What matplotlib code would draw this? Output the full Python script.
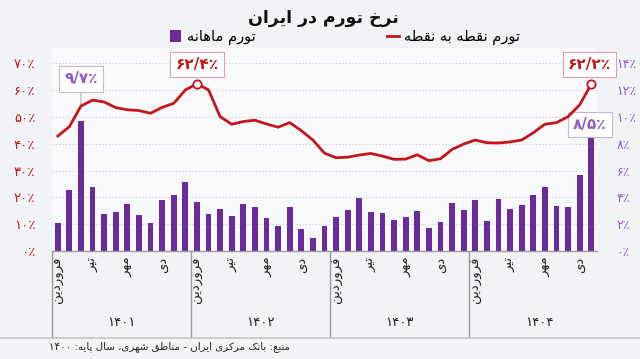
import matplotlib
matplotlib.use("Agg")
import matplotlib.pyplot as plt
from matplotlib.lines import Line2D
import matplotlib.transforms as mtransforms

plt.rcParams['font.family'] = ['DejaVu Sans']

# ---------------- data ----------------
years = ['1401', '1402', '1403', '1404']
month_names = ['فروردین', 'تیر', 'مهر', 'دی']
month_offsets = [0, 3, 6, 9]
months_per_year = [12, 12, 12, 11]

# point-to-point inflation (%), left axis
yoy = [42.9, 46.4, 54.1, 56.3, 55.6, 53.5, 52.7, 52.4, 51.4, 53.6, 55.1, 60.1,
       62.4, 60.1, 50.1, 47.3, 48.3, 48.8, 47.4, 46.2, 47.9, 44.9, 41.4, 36.5,
       34.8, 35.0, 35.8, 36.4, 35.4, 34.2, 34.3, 35.9, 33.7, 34.4, 37.9, 39.9,
       41.4, 40.4, 40.3, 40.7, 41.4, 44.1, 47.3, 47.9, 50.1, 54.5, 62.2]
# monthly inflation (%), right axis
monthly = [2.1, 4.55, 9.7, 4.75, 2.74, 2.91, 3.48, 2.66, 2.09, 3.78, 4.18, 5.13,
           3.66, 2.79, 3.13, 2.61, 3.51, 3.26, 2.46, 1.89, 3.31, 1.66, 0.97, 1.87,
           2.56, 3.06, 3.96, 2.93, 2.84, 2.31, 2.54, 2.96, 1.74, 2.19, 3.58, 3.08,
           3.81, 2.26, 3.88, 3.13, 3.43, 4.18, 4.78, 3.36, 3.31, 5.69, 8.5]

left_ticks = [0, 10, 20, 30, 40, 50, 60, 70]
right_ticks = [0, 2, 4, 6, 8, 10, 12, 14]

title = 'نرخ تورم در ایران'
legend_line = 'تورم نقطه به نقطه'
legend_bar = 'تورم ماهانه'
source = 'منبع: بانک مرکزی ایران - مناطق شهری، سال پایه: ۱۴۰۰'

# ---------------- helpers ----------------
FA_DIGITS = '۰۱۲۳۴۵۶۷۸۹'


def fa(s):
    return ''.join(FA_DIGITS[int(c)] if c.isdigit() and c.isascii() else c for c in str(s))


def fa_num(v):
    s = ('%g' % v).replace('.', '/')
    return fa(s) + '٪'


FORMS = {
    'ا': ('\uFE8D', '\uFE8E', None, None),
    'ب': ('\uFE8F', '\uFE90', '\uFE91', '\uFE92'),
    'پ': ('\uFB56', '\uFB57', '\uFB58', '\uFB59'),
    'ت': ('\uFE95', '\uFE96', '\uFE97', '\uFE98'),
    'خ': ('\uFEA5', '\uFEA6', '\uFEA7', '\uFEA8'),
    'د': ('\uFEA9', '\uFEAA', None, None),
    'ر': ('\uFEAD', '\uFEAE', None, None),
    'ز': ('\uFEAF', '\uFEB0', None, None),
    'س': ('\uFEB1', '\uFEB2', '\uFEB3', '\uFEB4'),
    'ش': ('\uFEB5', '\uFEB6', '\uFEB7', '\uFEB8'),
    'ط': ('\uFEC1', '\uFEC2', '\uFEC3', '\uFEC4'),
    'ع': ('\uFEC9', '\uFECA', '\uFECB', '\uFECC'),
    'ف': ('\uFED1', '\uFED2', '\uFED3', '\uFED4'),
    'ق': ('\uFED5', '\uFED6', '\uFED7', '\uFED8'),
    'ک': ('\uFB8E', '\uFB8F', '\uFB90', '\uFB91'),
    'ل': ('\uFEDD', '\uFEDE', '\uFEDF', '\uFEE0'),
    'م': ('\uFEE1', '\uFEE2', '\uFEE3', '\uFEE4'),
    'ن': ('\uFEE5', '\uFEE6', '\uFEE7', '\uFEE8'),
    'ه': ('\uFEE9', '\uFEEA', '\uFEEB', '\uFEEC'),
    'و': ('\uFEED', '\uFEEE', None, None),
    'ی': ('\uFBFC', '\uFBFD', '\uFBFE', '\uFBFF'),
}


def rtl(text):
    chars = list(text)
    shaped = []
    i = 0
    while i < len(chars):
        c = chars[i]
        if c not in FORMS:
            shaped.append(c)
            i += 1
            continue
        prev = chars[i - 1] if i > 0 else None
        nxt = chars[i + 1] if i + 1 < len(chars) else None
        join_prev = prev in FORMS and FORMS[prev][2] is not None
        if c == 'ل' and nxt == 'ا':
            shaped.append('\uFEFC' if join_prev else '\uFEFB')
            i += 2
            continue
        join_next = FORMS[c][2] is not None and nxt in FORMS
        iso, fin, ini, med = FORMS[c]
        if join_prev and join_next:
            f = med
        elif join_prev:
            f = fin
        elif join_next:
            f = ini
        else:
            f = iso
        shaped.append(f)
        i += 1
    runs = []
    for ch in shaped:
        d = ch.isdigit()
        if runs and runs[-1][0] == d:
            runs[-1][1].append(ch)
        else:
            runs.append([d, [ch]])
    out = []
    for d, r in reversed(runs):
        out.append(''.join(r) if d else ''.join(reversed(r)))
    return ''.join(out)


# ---------------- figure ----------------
W, H = 640, 359
fig = plt.figure(figsize=(6.4, 3.59), dpi=100, facecolor='#f1f3f6')

ax_l, ax_r, ax_b, ax_t = 52, 597, 251, 48
ax2 = fig.add_axes([ax_l / W, 1 - ax_b / H, (ax_r - ax_l) / W, (ax_b - ax_t) / H])
ax = ax2.twinx()
ax.yaxis.tick_left()
ax2.yaxis.tick_right()
ax.set_zorder(ax2.get_zorder() + 1)
ax.patch.set_visible(False)
ax2.set_facecolor('#f7f9fb')

RED = '#c3161c'
PURPLE = '#6a2c9c'
PURPLE_T = '#8c5cc4'

n = len(yoy)
x = list(range(n))
top_left = (ax_b - ax_t) / 2.68
ax.set_ylim(0, top_left)
ax2.set_ylim(0, top_left / 5)
ax.set_xlim(-0.5, n - 0.5)
ax2.set_xlim(-0.5, n - 0.5)

bars = ax2.bar(x, monthly, width=0.5, color=PURPLE, zorder=2, label=rtl(legend_bar))
line, = ax.plot(x, yoy, color=RED, lw=2, zorder=3, label=rtl(legend_line))

ax2.set_yticks(right_ticks)
ax2.set_yticklabels([fa(t) + '٪' for t in right_ticks], color=PURPLE_T, fontsize=9)
ax2.grid(axis='y', color='#c8ccd2', ls=(0, (1, 2)), lw=0.8, zorder=0)
ax2.tick_params(axis='y', length=0, pad=14)

ax.set_yticks(left_ticks)
ax.set_yticklabels([fa(t) + '٪' for t in left_ticks], color=RED, fontsize=9.5)
ax.tick_params(axis='y', length=0, pad=12)

for a in (ax, ax2):
    for s in ('top', 'left', 'right'):
        a.spines[s].set_visible(False)
ax.spines['bottom'].set_visible(False)
ax2.spines['bottom'].set_color('#9a9a9a')
ax2.spines['bottom'].set_linewidth(1.0)

# month tick labels
tick_pos, tick_lab = [], []
start = 0
for yi, cnt in enumerate(months_per_year):
    for off, name in zip(month_offsets, month_names):
        if off < cnt:
            tick_pos.append(start + off)
            tick_lab.append(rtl(name))
    start += cnt
ax.set_xticks([])
ax2.set_xticks(tick_pos)
ax2.set_xticklabels(tick_lab, rotation=90, va='top', ha='center', fontsize=9.5, color='#222222')
ax2.tick_params(axis='x', length=0, pad=4)

# year labels and separators
trans = mtransforms.blended_transform_factory(ax2.transData, ax2.transAxes)
y_sep_bottom = (ax_b - 337) / (ax_b - ax_t)
y_year = (ax_b - 322) / (ax_b - ax_t)
start = 0
for yi, cnt in enumerate(months_per_year):
    xs = start - 0.5
    ax2.add_line(Line2D([xs, xs], [0, y_sep_bottom], transform=trans, color='#9a9a9a',
                        lw=1.0, clip_on=False))
    ax2.text(start + 5.5, y_year, fa(years[yi]), transform=trans, ha='center', va='center',
             fontsize=9.5, color='#222222')
    start += cnt
fig.add_artist(Line2D([0, 1], [1 - 338 / H, 1 - 338 / H], transform=fig.transFigure,
                      color='#c4c6ca', lw=1.2))

# annotations
i_max_m = monthly.index(max(monthly[:12]))
ax2.annotate(fa_num(monthly[i_max_m]), xy=(i_max_m, yoy[i_max_m] / 5),
             xytext=(i_max_m, 12.85), ha='center', va='center', fontsize=11,
             fontweight='bold', color=PURPLE_T,
             bbox=dict(boxstyle='square,pad=0.35', fc='white', ec='#c9b6e0', lw=0.8),
             arrowprops=dict(arrowstyle='-', color='#b0b0b0', lw=0.8, shrinkA=0, shrinkB=0),
             zorder=5)
i_last = n - 1
ax2.annotate(fa_num(monthly[i_last]), xy=(i_last, monthly[i_last]),
             xytext=(i_last - 0.1, 9.45), ha='center', va='center', fontsize=11,
             fontweight='bold', color=PURPLE_T,
             bbox=dict(boxstyle='square,pad=0.35', fc='white', ec='#c9b6e0', lw=0.8),
             zorder=5)

for idx, xt in ((12, 12), (i_last, i_last - 0.15)):
    ax.plot([idx], [yoy[idx]], 'o', ms=6, mfc='white', mec=RED, mew=1.3, zorder=4)
    ax.text(xt, 69.6, fa_num(yoy[idx]), ha='center', va='center', fontsize=11,
            fontweight='bold', color=RED,
            bbox=dict(boxstyle='square,pad=0.35', fc='white', ec='#e0a4a6', lw=0.8), zorder=5)

# title, legend, source
fig.text(323 / W, 1 - 18 / H, rtl(title), ha='center', va='center', fontsize=12.5,
         fontweight='bold', color='#111111')
fig.legend(handles=[bars, line], loc='center', bbox_to_anchor=(345 / W, 1 - 37 / H),
           ncol=2, frameon=False, fontsize=10.5, handlelength=0.8, handleheight=0.8,
           columnspacing=9, handletextpad=0.4)
fig.text(290 / W, 1 - 347 / H, rtl(source), ha='right', va='center', fontsize=7.4,
         color='#222222')

fig.savefig('out.png', dpi=100, facecolor=fig.get_facecolor())
